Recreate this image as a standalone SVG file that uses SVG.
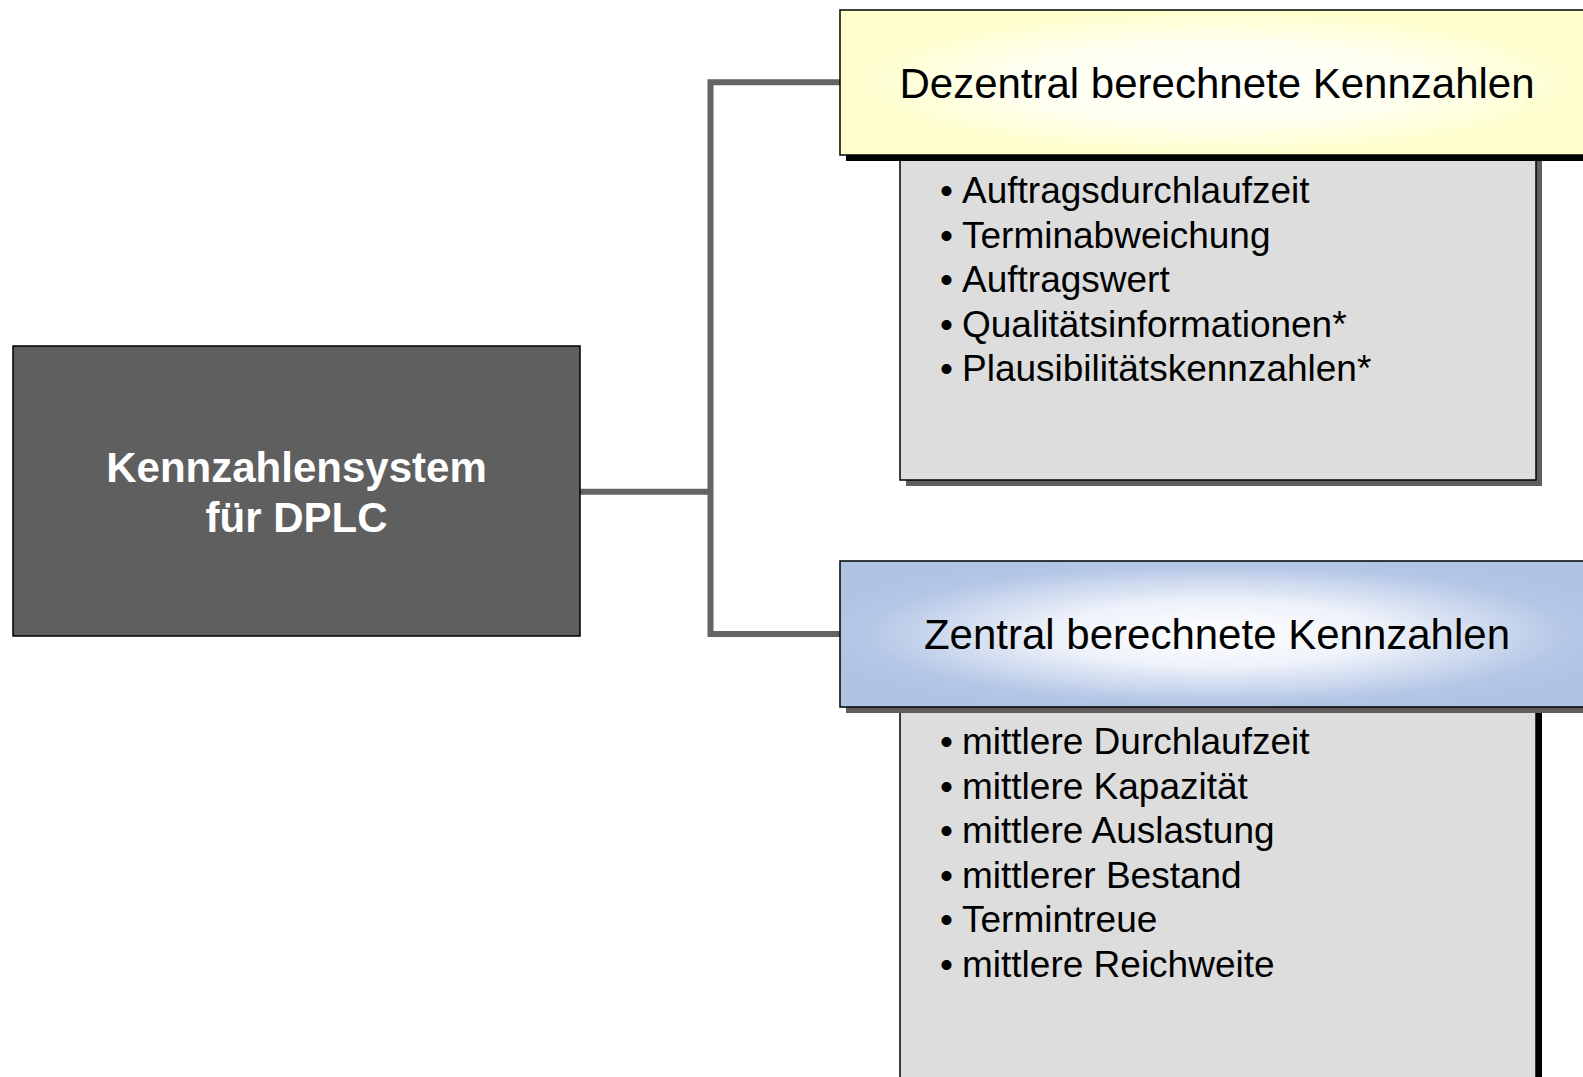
<svg xmlns="http://www.w3.org/2000/svg" width="1583" height="1077" viewBox="0 0 1583 1077">
  <defs>
    <radialGradient id="gYellow" cx="0.5" cy="0.5" r="0.55">
      <stop offset="0" stop-color="#ffffff"/>
      <stop offset="0.5" stop-color="#fffff0"/>
      <stop offset="0.9" stop-color="#ffffcc"/>
      <stop offset="1" stop-color="#ffffcc"/>
    </radialGradient>
    <radialGradient id="gBlue" cx="0.5" cy="0.5" r="0.55">
      <stop offset="0" stop-color="#ffffff"/>
      <stop offset="0.4" stop-color="#eef2fa"/>
      <stop offset="0.85" stop-color="#b5c7e6"/>
      <stop offset="1" stop-color="#b1c3e3"/>
    </radialGradient>
    <style>
      .conn { fill: none; stroke: #646464; stroke-width: 6; }
      .frame { stroke: #000000; stroke-width: 1.5; }
      .body { fill: #dddddd; }
      .shBlack { fill: #000000; }
      .shGray { fill: #5f5f5f; }
      .head { font-family: "Liberation Sans", Arial, sans-serif; font-size: 42px; fill: #000000; text-anchor: middle; }
      .item { font-family: "Liberation Sans", Arial, sans-serif; font-size: 37px; fill: #000000; }
      .root { font-family: "Liberation Sans", Arial, sans-serif; font-size: 42px; font-weight: bold; fill: #ffffff; text-anchor: middle; }
    </style>
  </defs>
  <rect width="1583" height="1077" fill="#ffffff"/>

  <g id="connectors">
    <path class="conn" d="M 580 491.7 H 710.5"/>
    <path class="conn" d="M 840 82.3 H 710.5 V 634 H 840"/>
  </g>

  <g id="root">
    <rect x="13" y="346" width="567" height="290" fill="#5f5f5f" class="frame"/>
    <text class="root" x="296.5" y="481.7">Kennzahlensystem</text>
    <text class="root" x="296.5" y="531.7">für DPLC</text>
  </g>

  <g id="list-dezentral">
    <rect class="shGray" x="906" y="161" width="636" height="325"/>
    <rect class="body frame" x="900" y="155" width="636" height="325"/>
    <text class="item" x="940" y="203">•</text>
    <text class="item" x="962" y="203">Auftragsdurchlaufzeit</text>
    <text class="item" x="940" y="247.5">•</text>
    <text class="item" x="962" y="247.5">Terminabweichung</text>
    <text class="item" x="940" y="292">•</text>
    <text class="item" x="962" y="292">Auftragswert</text>
    <text class="item" x="940" y="336.5">•</text>
    <text class="item" x="962" y="336.5">Qualitätsinformationen*</text>
    <text class="item" x="940" y="381">•</text>
    <text class="item" x="962" y="381">Plausibilitätskennzahlen*</text>
  </g>

  <g id="header-dezentral">
    <rect class="shBlack" x="846" y="16" width="754" height="145"/>
    <rect x="840" y="10" width="754" height="145" fill="url(#gYellow)" class="frame"/>
    <text class="head" x="1217" y="98.3">Dezentral berechnete Kennzahlen</text>
  </g>

  <g id="list-zentral">
    <rect class="shBlack" x="906" y="713" width="636" height="380"/>
    <rect class="body frame" x="900" y="707" width="636" height="380"/>
    <text class="item" x="940" y="754">•</text>
    <text class="item" x="962" y="754">mittlere Durchlaufzeit</text>
    <text class="item" x="940" y="798.5">•</text>
    <text class="item" x="962" y="798.5">mittlere Kapazität</text>
    <text class="item" x="940" y="843">•</text>
    <text class="item" x="962" y="843">mittlere Auslastung</text>
    <text class="item" x="940" y="887.5">•</text>
    <text class="item" x="962" y="887.5">mittlerer Bestand</text>
    <text class="item" x="940" y="932">•</text>
    <text class="item" x="962" y="932">Termintreue</text>
    <text class="item" x="940" y="976.5">•</text>
    <text class="item" x="962" y="976.5">mittlere Reichweite</text>
  </g>

  <g id="header-zentral">
    <rect class="shGray" x="846" y="567" width="754" height="146"/>
    <rect x="840" y="561" width="754" height="146" fill="url(#gBlue)" class="frame"/>
    <text class="head" x="1217" y="649.3">Zentral berechnete Kennzahlen</text>
  </g>
</svg>
